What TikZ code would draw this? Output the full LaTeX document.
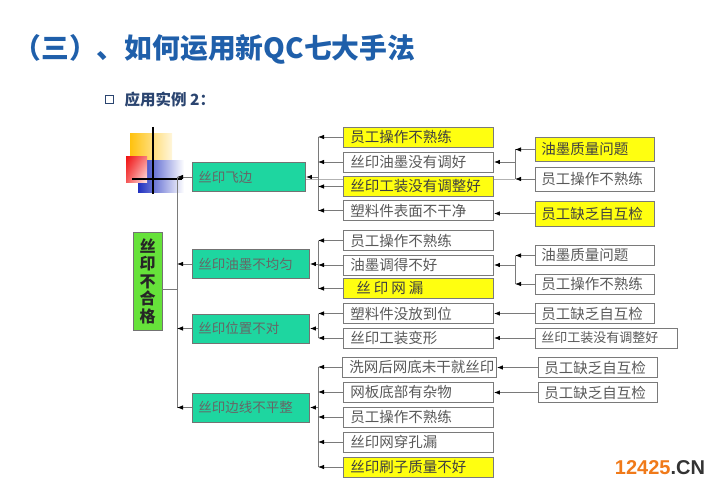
\documentclass[tikz,border=0pt]{standalone}
\usepackage{fontspec}
\setmainfont{Noto Sans CJK SC}
\newfontfamily\markfont{Liberation Sans}
\usetikzlibrary{arrows.meta,shadings}

\definecolor{titleblue}{HTML}{1F5FAA}
\definecolor{subblue}{HTML}{2B4570}
\definecolor{boxyellow}{HTML}{FFFF10}
\definecolor{boxteal}{HTML}{1ED6A0}
\definecolor{rootgreen}{HTML}{66E23A}
\definecolor{linegray}{HTML}{7A7A7A}
\definecolor{markorange}{HTML}{F07A1A}
\definecolor{decoyellow}{HTML}{FFC20E}
\definecolor{decored}{HTML}{F01010}
\definecolor{decoblue}{HTML}{2030C0}

\tikzset{
  causeA/.style={draw=linegray, line width=0.9pt, fill=white, text=black!65,
    font=\fontsize{14.5}{14.5}\selectfont, anchor=west, align=left,
    text width=136pt, inner xsep=7pt, inner ysep=0pt, minimum height=20pt},
  causeB/.style={causeA, text width=107pt, inner xsep=6pt},
  hot/.style={fill=boxyellow, text=black!75},
  effect/.style={draw=black!55, line width=0.9pt, fill=boxteal, text=black!60,
    font=\fontsize{13.5}{13.5}\selectfont, anchor=west, align=left,
    text width=105pt, inner xsep=6pt, inner ysep=0pt, minimum height=29pt},
  conn/.style={draw=linegray, line width=0.8pt},
  arr/.style={conn, -{Latex[length=6pt,width=4.5pt,black]}}
}

\begin{document}
\begin{tikzpicture}[x=1pt, y=-1pt]
    \useasboundingbox (0,0) rectangle (720,492);

    % Title
    \node (title) at (10,49) [anchor=west, text=titleblue, font=\bfseries\fontsize{27.8}{27.8}\selectfont] {（三）、如何运用新QC七大手法};
    \draw[subblue, line width=1pt] (105,96) rectangle (113,104);
    \node (sub) at (121,100) [anchor=west, text=subblue, font=\bfseries\fontsize{15.5}{15.5}\selectfont] {应用实例 2：};

    % Decoration
    \shade[left color=decoyellow, right color=decoyellow!15] (130,134) rectangle (172,162);
    \shade[left color=decoblue, right color=white] (138,160) rectangle (184,192);
    \shade[upper left=decored, upper right=decored!55, lower left=decored!70, lower right=decored!10] (126,156) rectangle (147,182);
    \draw[black, line width=2.5pt] (153,127) -- (153,194);
    \draw[black, line width=2.5pt] (132,179) -- (182,179);
    \draw[black!30, line width=0.6pt] (305,179) -- (515,179);

    % Root and effects
    \node (root) at (147.5,281) [draw=black!55, line width=0.9pt, fill=rootgreen, text=black!85,
        font=\bfseries\fontsize{16}{17.5}\selectfont, align=center, minimum width=29pt, minimum height=98pt, inner sep=0pt]
        {丝\\印\\不\\合\\格};
    \node (l1) at (192,177) [effect, text width=101pt] {丝印飞边};
    \node (l2) at (192,264) [effect] {丝印油墨不均匀};
    \node (l3) at (192,328.5) [effect] {丝印位置不对};
    \node (l4) at (192,407.5) [effect] {丝印边线不平整};

    % First level causes
    \node (a1) at (343,137) [causeA, hot] {员工操作不熟练};
    \node (a2) at (343,162) [causeA] {丝印油墨没有调好};
    \node (a3) at (343,186.5) [causeA, hot] {丝印工装没有调整好};
    \node (a4) at (343,210.5) [causeA] {塑料件表面不干净};
    \node (a5) at (343,240.5) [causeA] {员工操作不熟练};
    \node (a6) at (343,265) [causeA] {油墨调得不好};
    \node (a7) at (343,288.5) [causeA, hot] {\hspace{6pt}丝\hspace{3pt}印\hspace{3pt}网\hspace{3pt}漏};
    \node (a8) at (343,313.5) [causeA] {塑料件没放到位};
    \node (a9) at (343,338) [causeA] {丝印工装变形};
    \node (a10) at (342,367) [causeA, text width=140pt] {洗网后网底未干就丝印};
    \node (a11) at (343,392) [causeA] {网板底部有杂物};
    \node (a12) at (343,417) [causeA] {员工操作不熟练};
    \node (a13) at (343,442) [causeA] {丝印网穿孔漏};
    \node (a14) at (343,467) [causeA, hot] {丝印刷子质量不好};

    % Second level causes
    \node (b1) at (535,149.5) [causeB, hot, minimum height=24pt] {油墨质量问题};
    \node (b2) at (535,179) [causeB, minimum height=24pt] {员工操作不熟练};
    \node (b3) at (535,213.5) [causeB, hot, minimum height=25pt] {员工缺乏自互检};
    \node (b4) at (535,255.5) [causeB] {油墨质量问题};
    \node (b5) at (535,284) [causeB] {员工操作不熟练};
    \node (b6) at (535,313.5) [causeB] {员工缺乏自互检};
    \node (b7) at (535,338) [causeB, text width=130pt, font=\fontsize{13}{13}\selectfont] {丝印工装没有调整好};
    \node (b8) at (538,367.5) [causeB] {员工缺乏自互检};
    \node (b9) at (538,392.5) [causeB] {员工缺乏自互检};

    % Trunk
    \coordinate (trunk) at (177,0);
    \coordinate (rootout) at ([yshift=-8pt]root.east);
    \draw[conn] (trunk |- l1.west) -- (trunk |- l4.west);
    \draw[conn] (rootout) -- (rootout -| trunk);
    \draw[arr] (l1.west) -- (trunk |- l1.west);
    \draw[arr] (l2.west) -- (trunk |- l2.west);
    \draw[arr] (l3.west) -- (trunk |- l3.west);
    \draw[arr] (l4.west) -- (trunk |- l4.west);

    % Branches to the effects
    \coordinate (colA) at (318,0);
    \draw[conn] (colA |- a1.west) -- (colA |- a4.west);
    \draw[conn] (colA |- a5.west) -- (colA |- a7.west);
    \draw[conn] (colA |- a8.west) -- (colA |- a9.west);
    \draw[conn] (colA |- a10.west) -- (colA |- a14.west);
    \draw[arr] (colA |- l1.east) -- (l1.east);
    \draw[arr] (colA |- l2.east) -- (l2.east);
    \draw[arr] (colA |- l3.east) -- (l3.east);
    \draw[arr] (colA |- l4.east) -- (l4.east);
    \draw[arr] (a1.west) -- (colA |- a1.west);
    \draw[arr] (a2.west) -- (colA |- a2.west);
    \draw[arr] (a3.west) -- (colA |- a3.west);
    \draw[arr] (a4.west) -- (colA |- a4.west);
    \draw[arr] (a5.west) -- (colA |- a5.west);
    \draw[arr] (a6.west) -- (colA |- a6.west);
    \draw[arr] (a7.west) -- (colA |- a7.west);
    \draw[arr] (a8.west) -- (colA |- a8.west);
    \draw[arr] (a9.west) -- (colA |- a9.west);
    \draw[arr] (a10.west) -- (colA |- a10.west);
    \draw[arr] (a11.west) -- (colA |- a11.west);
    \draw[arr] (a12.west) -- (colA |- a12.west);
    \draw[arr] (a13.west) -- (colA |- a13.west);
    \draw[arr] (a14.west) -- (colA |- a14.west);

    % Branches to the first level causes
    \coordinate (colB) at (515,0);
    \draw[conn] (colB |- b1.west) -- (colB |- b2.west);
    \draw[conn] (colB |- b4.west) -- (colB |- b5.west);
    \draw[arr] (b1.west) -- (colB |- b1.west);
    \draw[arr] (b2.west) -- (colB |- b2.west);
    \draw[arr] (b4.west) -- (colB |- b4.west);
    \draw[arr] (b5.west) -- (colB |- b5.west);
    \draw[arr] (colB |- a2.east) -- (a2.east);
    \draw[arr] (colB |- a6.east) -- (a6.east);
    \draw[arr] (b3.west) -- (b3.west -| a4.east);
    \draw[arr] (b6.west) -- (b6.west -| a8.east);
    \draw[arr] (b7.west) -- (b7.west -| a9.east);
    \draw[arr] (b8.west) -- (b8.west -| a10.east);
    \draw[arr] (b9.west) -- (b9.west -| a11.east);

    % Site mark
    \node (mark) at (660,468) [font=\markfont\bfseries\fontsize{20}{20}\selectfont, text=black!80]
        {\textcolor{markorange}{12425}.CN};

\end{tikzpicture}
\end{document}
